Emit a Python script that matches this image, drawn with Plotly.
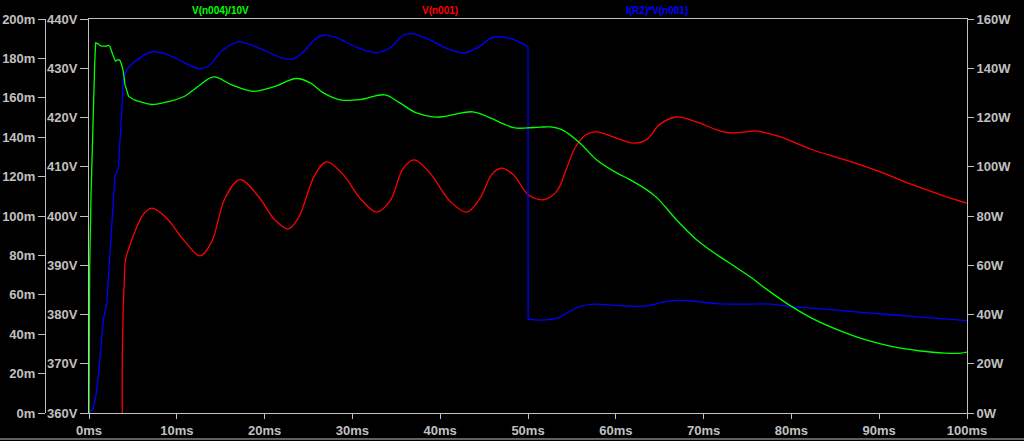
import plotly.graph_objects as go

# ---- data (time in ms) ----
green_t = [0, 0.03, 0.08, 0.23, 0.38, 0.54, 0.65, 0.76, 1.0, 1.4, 2.0, 2.2, 2.4, 2.7, 3.0, 3.3, 3.5, 3.7,
           3.9, 4.1, 4.3, 4.5, 5.05, 5.8, 7.1, 8.5, 10.9, 12.45, 14.2, 16.2, 18.7, 21.0, 23.6, 25.2, 26.7,
           28.6, 30.9, 33.7, 35.4, 37.3, 39.2, 40.3, 43.7, 45.7, 47.2, 48.5, 49.9, 51.4, 52.5, 54.0, 55.9,
           57.8, 60.1, 61.6, 63.5, 64.7, 66.9, 69.2, 71.5, 73.8, 75.5, 77.0, 80.0, 82.3, 85.3, 88.4, 91.4,
           94.5, 97.5, 99.3, 100]
green_m = [0, 28.5, 75, 110, 138.8, 165.9, 177.7, 187.9, 187.5, 186.2, 186.2, 186.7, 186.0, 182, 178.6, 179.4,
           179.2, 177, 173.5, 166.7, 163, 160.8, 159.1, 158, 156.6, 157.5, 160.8, 165.9, 170.6, 166.7, 163.3,
           165.5, 169.8, 167.6, 162.5, 159, 159.1, 161.5, 157.4, 152.3, 150.3, 150.4, 152.9, 149.8, 146.8,
           144.7, 144.7, 145.1, 145.2, 143.5, 137.1, 128.6, 121.9, 118.5, 113.4, 109.2, 98.1, 88, 80.4, 73.6,
           68.5, 63.4, 54.1, 48.2, 42.2, 37.2, 33.8, 31.6, 30.4, 30.4, 30.9]

red_t = [3.78, 3.79, 3.9, 4.1, 4.29, 5.24, 6.18, 7.14, 8.66, 10.93, 12.64, 13.97, 15.49, 17.2, 19.28, 21.18,
         22.7, 23.84, 25.74, 27.07, 28.96, 30.87, 32.77, 34.28, 35.8, 37.05, 38.84, 41.12, 43.02, 44.53,
         45.86, 46.89, 48.33, 50.04, 51.74, 53.26, 54.4, 55.35, 56.5, 57.8, 60.1, 61.99, 63.5, 65.0, 66.9,
         69.2, 71.5, 73.0, 74.9, 75.85, 78.5, 82.3, 86.1, 89.9, 93.7, 97.5, 100]
red_v = [330, 371.4, 381.6, 390.4, 392.1, 396.9, 400.3, 401.6, 399.9, 394.8, 391.9, 394.8, 403.6, 407.4,
         404.0, 399.2, 397.4, 399.6, 408.4, 411.0, 408.4, 403.6, 400.8, 403.0, 409.7, 411.4, 408.7, 403.0,
         400.8, 403.6, 408.4, 409.7, 408.4, 404.3, 403.3, 405.0, 409.7, 413.8, 416.4, 417.1, 415.8, 414.8,
         415.5, 418.6, 420.1, 419.1, 417.5, 416.9, 417.1, 417.3, 416.2, 413.5, 411.4, 409.1, 406.4, 404.0,
         402.6]

blue_t = [0, 0.49, 0.8, 1.06, 1.37, 1.63, 2.02, 2.2, 2.39, 2.7, 2.96, 3.34, 3.53, 3.72, 3.9, 4.1, 4.29,
          5.24, 7.14, 8.66, 10.93, 12.45, 13.58, 15.1, 17.0, 19.28, 21.94, 23.27, 24.2, 25.74, 26.7, 28.2,
          30.5, 32.77, 34.3, 35.8, 36.9, 38.45, 41.1, 42.8, 44.5, 45.7, 46.8, 48.3, 50.0, 50.01, 51.4, 53.3,
          54.4, 55.9, 57.4, 59.3, 61.2, 63.5, 65.4, 66.9, 69.2, 71.5, 73.8, 77.7, 80.0, 82.3, 86.1, 89.9,
          93.7, 97.5, 100]
blue_w = [0, 1.9, 7.3, 14.8, 27.0, 37.8, 44.6, 53.4, 64.9, 82.5, 96.1, 99.5, 109.7, 121.9, 135.4, 138.1,
          139.5, 142.8, 146.7, 145.9, 142.2, 139.9, 140.8, 146.9, 150.7, 148.3, 144.2, 143.8, 145.9, 151.7,
          153.4, 152.4, 148.5, 146.3, 148.3, 153.4, 154.0, 152.1, 147.6, 146.3, 148.9, 152.1, 152.8, 151.7,
          148.7, 38.1, 37.7, 38.5, 40.5, 43.2, 44.2, 43.9, 43.4, 43.5, 45.0, 45.7, 45.3, 44.4, 44.2, 44.2,
          43.2, 42.6, 41.5, 40.3, 39.2, 38.2, 37.4]

x_ticks = [0, 10, 20, 30, 40, 50, 60, 70, 80, 90, 100]
x_ticktext = ["0ms", "10ms", "20ms", "30ms", "40ms", "50ms", "60ms", "70ms", "80ms", "90ms", "100ms"]
labels = [("V(n004)/10V", 15, "#00ff00"), ("V(n001)", 40, "#ff0000"), ("I(R2)*V(n001)", 64.7, "#0000ff")]

GREY = "#c0c0c0"
tickfont = dict(family="Liberation Sans, Arial, sans-serif", size=13, color=GREY, weight="bold")

W, H = 1024, 441
ML, MR, MT, MB = 45, 57, 19, 28
paper_w = W - ML - MR
paper_h = H - MT - MB
x0 = (89 - ML) / paper_w
LW = 1.3

fig = go.Figure()


def add_piece(t, v, color, axis, shape):
    fig.add_trace(go.Scatter(x=t, y=v, mode="lines", yaxis=axis,
                             line=dict(color=color, width=LW, shape=shape, smoothing=1.0),
                             hoverinfo="skip"))


# green: stepped start linear, rest smooth
gk = green_t.index(5.05)
add_piece(green_t[:gk + 1], green_m[:gk + 1], "#00ff00", "y3", "linear")
add_piece(green_t[gk:], green_m[gk:], "#00ff00", "y3", "spline")

# red: vertical start linear, rest smooth
rk = red_t.index(4.29)
add_piece(red_t[:rk + 1], red_v[:rk + 1], "#ff0000", "y", "linear")
add_piece(red_t[rk:], red_v[rk:], "#ff0000", "y", "spline")

# blue: stepped rise, smooth ripple, vertical drop, smooth tail
bk1 = blue_t.index(4.29)
bk2 = blue_t.index(50.0)
add_piece(blue_t[:bk1 + 1], blue_w[:bk1 + 1], "#0000ff", "y2", "linear")
add_piece(blue_t[bk1:bk2 + 1], blue_w[bk1:bk2 + 1], "#0000ff", "y2", "spline")
add_piece(blue_t[bk2:bk2 + 2], blue_w[bk2:bk2 + 2], "#0000ff", "y2", "linear")
add_piece(blue_t[bk2 + 1:], blue_w[bk2 + 1:], "#0000ff", "y2", "spline")

common = dict(showgrid=False, zeroline=False, showline=True, linecolor=GREY, linewidth=1,
              tickcolor=GREY, tickfont=tickfont, automargin=False, ticks="outside")

fig.update_layout(
    width=W, height=H, autosize=False,
    margin=dict(l=ML, r=MR, t=MT, b=MB, pad=0),
    paper_bgcolor="black", plot_bgcolor="black",
    showlegend=False,
    xaxis=dict(domain=[x0, 1], range=[0, 100], tickmode="array", tickvals=x_ticks, ticktext=x_ticktext,
               mirror=True, ticklen=5, **common),
    yaxis=dict(range=[360, 440], dtick=10, ticksuffix="V", mirror=True, ticklen=8, anchor="x", **common),
    yaxis2=dict(range=[0, 160], dtick=20, ticksuffix="W", side="right", overlaying="y", anchor="x",
                ticklen=6, **common),
    yaxis3=dict(range=[0, 200], dtick=20, ticksuffix="m", side="left", overlaying="y",
                anchor="free", position=0, ticklen=7, **common),
)

for txt, xt, col in labels:
    fig.add_annotation(x=xt, xref="x", y=(H - MB - 10) / paper_h, yref="paper",
                       text=txt, showarrow=False, xanchor="center", yanchor="middle",
                       font=dict(family="Liberation Sans, Arial, sans-serif",
                                 size=10, weight="bold", color=col))

yb = -(439 - (H - MB)) / paper_h
fig.add_shape(type="line", xref="paper", yref="paper",
              x0=-ML / paper_w, x1=(W - ML) / paper_w, y0=yb, y1=yb,
              line=dict(color=GREY, width=1))

fig.write_html("out.html", config={"displayModeBar": False},
               post_script="document.body.style.margin='0';document.body.style.overflow='hidden';"
                           "document.body.style.background='black';")
